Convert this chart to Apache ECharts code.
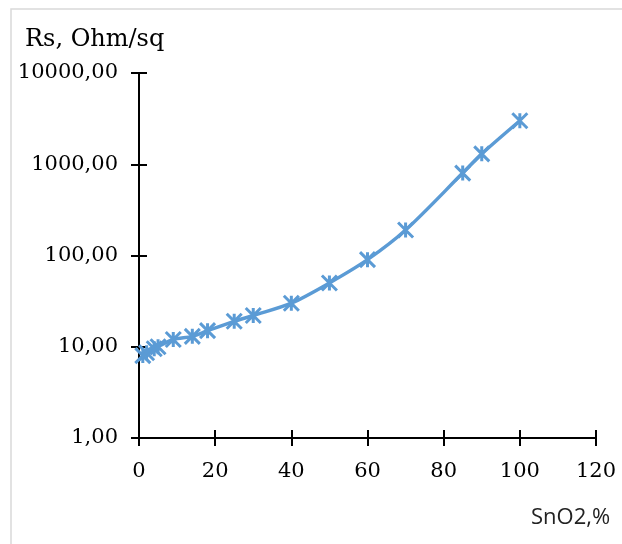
<!DOCTYPE html>
<html lang="en">
<head>
    <meta charset="UTF-8">
    <title>Rs vs SnO2</title>
    <script type="text/javascript" src="https://cdn.jsdelivr.net/npm/echarts@6/dist/echarts.min.js"></script>
    <style type="text/css">
        html,body{margin:0;padding:0;background:#fff;}
        #main{width:622px;height:544px;}
    </style>
</head>
<body>
<div id="main"></div>
<script type="text/javascript">
    // SnO2 content, %
    var sno2 = [1, 2, 4, 5, 9, 14, 18, 25, 30, 40, 50, 60, 70, 85, 90, 100];
    // sheet resistance, Ohm/sq
    var rs = [8, 8.6, 9.5, 10, 12, 13, 15, 19, 22, 30, 50, 90, 190, 800, 1300, 3000];
    var xTicks = [0, 20, 40, 60, 80, 100, 120];

    var points = [];
    for (var i = 0; i < sno2.length; i++) {
        points.push([sno2[i], rs[i]]);
    }

    var serif = '"DejaVu Serif", serif';
    var lineBlack = {show: true, lineStyle: {color: '#000', width: 2}};

    function fmtY(v) {
        return Number(v).toFixed(2).replace('.', ',');
    }

    var myChart = echarts.init(document.getElementById('main'));
    var option = {
        animation: false,
        backgroundColor: '#fff',
        grid: {left: 139, right: 26, top: 73, bottom: 106},
        graphic: [
            {type: 'rect', shape: {x: 11, y: 9, width: 640, height: 560},
                style: {fill: 'none', stroke: '#d9d9d9', lineWidth: 1.5}},
            {type: 'text', left: 25, top: 28,
                style: {text: 'Rs, Ohm/sq', font: '24px ' + serif, fill: '#000'}},
            {type: 'text', left: 531, top: 507,
                style: {text: 'SnO2,%', font: '22px "Open Sans", sans-serif', fill: '#222'}}
        ],
        xAxis: [{
            type: 'value', min: 0, max: 120, interval: 20,
            axisLine: lineBlack,
            splitLine: {show: false},
            axisTick: {show: true, length: 8, lineStyle: {color: '#000', width: 2}},
            axisLabel: {margin: 23, color: '#000', fontSize: 21, fontFamily: serif,
                customValues: xTicks}
        }, {
            type: 'value', min: 0, max: 120, interval: 20, position: 'bottom',
            axisLine: {show: false}, splitLine: {show: false}, axisLabel: {show: false},
            axisTick: {show: true, inside: true, length: 8, lineStyle: {color: '#000', width: 2}}
        }],
        yAxis: [{
            type: 'log', logBase: 10, min: 1, max: 10000,
            axisLine: lineBlack,
            splitLine: {show: false},
            axisTick: {show: true, length: 8, lineStyle: {color: '#000', width: 2}},
            axisLabel: {margin: 21, color: '#000', fontSize: 21, fontFamily: serif,
                formatter: fmtY}
        }, {
            type: 'log', logBase: 10, min: 1, max: 10000, position: 'left',
            axisLine: {show: false}, splitLine: {show: false}, axisLabel: {show: false},
            axisTick: {show: true, inside: true, length: 8, lineStyle: {color: '#000', width: 2}}
        }],
        series: [{
            type: 'line',
            data: points,
            smooth: 0.3,
            symbol: 'path://M0,0L10,10M10,0L0,10M5,0L5,10',
            symbolSize: 15,
            lineStyle: {color: '#5b9bd5', width: 3.5},
            itemStyle: {color: 'none', borderColor: '#5b9bd5', borderWidth: 3}
        }]
    };
    myChart.setOption(option);
</script>
</body>
</html>
